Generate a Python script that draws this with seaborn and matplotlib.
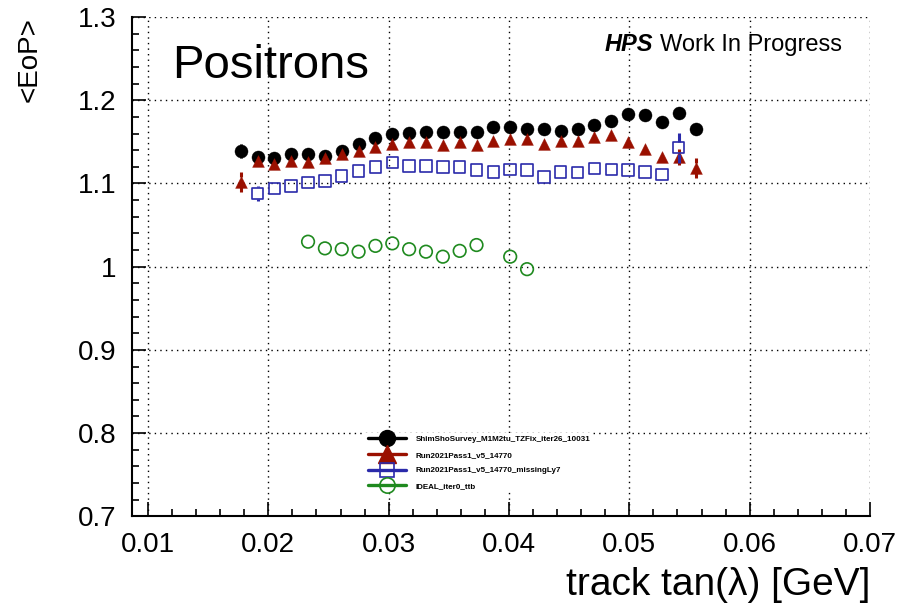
import matplotlib
matplotlib.use("Agg")
import matplotlib.pyplot as plt
import matplotlib.transforms as mtransforms
from matplotlib.collections import LineCollection
from matplotlib.lines import Line2D
from matplotlib.ticker import FixedLocator, FixedFormatter, MultipleLocator
import pandas as pd
import seaborn as sns

# ---------------- data ----------------
series_labels = ["ShimShoSurvey_M1M2tu_TZFix_iter26_10031",
                 "Run2021Pass1_v5_14770",
                 "Run2021Pass1_v5_14770_missingLy7",
                 "IDEAL_iter0_ttb"]

black_x = [0.0177, 0.0191, 0.0205, 0.0219, 0.0233, 0.0247, 0.0261, 0.0275, 0.0289, 0.0303,
           0.0317, 0.0331, 0.0345, 0.0359, 0.0373, 0.0387, 0.0401, 0.0415, 0.0429, 0.0443,
           0.0457, 0.0471, 0.0485, 0.0499, 0.0513, 0.0527, 0.0541, 0.0555]
black_y = [1.139, 1.132, 1.130, 1.135, 1.135, 1.133, 1.139, 1.148, 1.155, 1.160,
           1.161, 1.162, 1.162, 1.162, 1.162, 1.168, 1.168, 1.166, 1.166, 1.163,
           1.165, 1.170, 1.175, 1.184, 1.182, 1.174, 1.185, 1.166]
black_err = [0.009, 0.004, 0.004, 0.004, 0.004, 0.004, 0.004, 0.004, 0.004, 0.004,
             0.004, 0.004, 0.004, 0.004, 0.004, 0.004, 0.004, 0.004, 0.004, 0.004,
             0.004, 0.004, 0.004, 0.004, 0.004, 0.004, 0.005, 0.005]

red_x = [0.0177, 0.0191, 0.0205, 0.0219, 0.0233, 0.0247, 0.0261, 0.0275, 0.0289, 0.0303,
         0.0317, 0.0331, 0.0345, 0.0359, 0.0373, 0.0387, 0.0401, 0.0415, 0.0429, 0.0443,
         0.0457, 0.0471, 0.0485, 0.0499, 0.0513, 0.0527, 0.0541, 0.0555]
red_y = [1.102, 1.127, 1.123, 1.127, 1.126, 1.130, 1.135, 1.139, 1.144, 1.148,
         1.150, 1.150, 1.146, 1.150, 1.146, 1.151, 1.153, 1.153, 1.147, 1.151,
         1.151, 1.156, 1.158, 1.150, 1.141, 1.132, 1.132, 1.119]
red_err = [0.012, 0.004, 0.004, 0.004, 0.004, 0.004, 0.004, 0.004, 0.004, 0.004,
           0.004, 0.004, 0.004, 0.004, 0.004, 0.004, 0.004, 0.004, 0.004, 0.004,
           0.004, 0.004, 0.004, 0.004, 0.004, 0.005, 0.010, 0.012]

blue_x = [0.0191, 0.0205, 0.0219, 0.0233, 0.0247, 0.0261, 0.0275, 0.0289, 0.0303,
          0.0317, 0.0331, 0.0345, 0.0359, 0.0373, 0.0387, 0.0401, 0.0415, 0.0429, 0.0443,
          0.0457, 0.0471, 0.0485, 0.0499, 0.0513, 0.0527, 0.0541]
blue_y = [1.088, 1.094, 1.097, 1.101, 1.103, 1.109, 1.115, 1.120, 1.125,
          1.121, 1.121, 1.120, 1.120, 1.116, 1.114, 1.117, 1.116, 1.108, 1.114,
          1.113, 1.118, 1.117, 1.116, 1.114, 1.111, 1.143]
blue_err = [0.009, 0.004, 0.004, 0.004, 0.004, 0.004, 0.004, 0.004, 0.004,
            0.004, 0.004, 0.004, 0.004, 0.004, 0.004, 0.004, 0.004, 0.004, 0.004,
            0.004, 0.004, 0.004, 0.004, 0.004, 0.005, 0.018]

green_x = [0.0233, 0.0247, 0.0261, 0.0275, 0.0289, 0.0303, 0.0317, 0.0331, 0.0345,
           0.0359, 0.0373, 0.0401, 0.0415]
green_y = [1.030, 1.022, 1.021, 1.018, 1.025, 1.028, 1.021, 1.018, 1.012,
           1.019, 1.026, 1.012, 0.997]
green_err = [0.003, 0.003, 0.003, 0.003, 0.003, 0.003, 0.003, 0.003, 0.003,
             0.003, 0.003, 0.003, 0.003]

xticks = [0.01, 0.02, 0.03, 0.04, 0.05, 0.06, 0.07]
xtick_labels = ["0.01", "0.02", "0.03", "0.04", "0.05", "0.06", "0.07"]
yticks = [0.7, 0.8, 0.9, 1.0, 1.1, 1.2, 1.3]
ytick_labels = ["0.7", "0.8", "0.9", "1", "1.1", "1.2", "1.3"]

# ---------------- style ----------------
sns.set_style("white")
plt.rcParams["font.family"] = ["Liberation Sans", "DejaVu Sans"]
plt.rcParams["text.color"] = "black"
plt.rcParams["axes.labelcolor"] = "black"
plt.rcParams["xtick.color"] = "black"
plt.rcParams["ytick.color"] = "black"

C_BLACK = "#000000"
C_RED = "#9a1000"
C_BLUE = "#2a2aaa"
C_GREEN = "#1f8a1f"

fig = plt.figure(figsize=(9.11, 6.08), dpi=100)
ax = fig.add_axes([0.1449, 0.1508, 0.8101, 0.8212])
ax.set_xlim(0.00867, 0.07)
ax.set_ylim(0.7, 1.3)

px_per_y = ax.bbox.height / (1.3 - 0.7)


def gapped_bars(x, y, err, half_px, color, lw, z):
    gap = half_px / px_per_y
    segs = []
    for xi, yi, ei in zip(x, y, err):
        if ei > gap:
            segs.append([(xi, yi + gap), (xi, yi + ei)])
            segs.append([(xi, yi - ei), (xi, yi - gap)])
    if segs:
        ax.add_collection(LineCollection(segs, colors=color, linewidths=lw, zorder=z))


series = [
    dict(x=black_x, y=black_y, e=black_err, color=C_BLACK, marker="o", s=88,
         filled=True, half=6.0),
    dict(x=red_x, y=red_y, e=red_err, color=C_RED, marker="^", s=72,
         filled=True, half=5.0),
    dict(x=blue_x, y=blue_y, e=blue_err, color=C_BLUE, marker="s", s=68,
         filled=False, half=6.0),
    dict(x=green_x, y=green_y, e=green_err, color=C_GREEN, marker="o", s=82,
         filled=False, half=6.5),
]

for k, sr in enumerate(series):
    z = 4 + 2 * k
    gapped_bars(sr["x"], sr["y"], sr["e"], sr["half"], sr["color"], 2.2, z)
    df = pd.DataFrame({"x": sr["x"], "y": sr["y"]})
    if sr["filled"]:
        sns.scatterplot(data=df, x="x", y="y", ax=ax, marker=sr["marker"], s=sr["s"],
                        color=sr["color"], edgecolor=sr["color"], linewidth=0.3,
                        zorder=z + 1, legend=False)
    else:
        sns.scatterplot(data=df, x="x", y="y", ax=ax, marker=sr["marker"], s=sr["s"],
                        color=sr["color"], facecolors="none", edgecolor=sr["color"],
                        linewidth=1.2, zorder=z + 1, legend=False)

# ---------------- axes ----------------
ax.set_xlabel("")
ax.set_ylabel("")
ax.xaxis.set_major_locator(FixedLocator(xticks))
ax.xaxis.set_major_formatter(FixedFormatter(xtick_labels))
ax.yaxis.set_major_locator(FixedLocator(yticks))
ax.yaxis.set_major_formatter(FixedFormatter(ytick_labels))
ax.xaxis.set_minor_locator(MultipleLocator(0.002))
ax.yaxis.set_minor_locator(MultipleLocator(0.02))

ax.grid(True, which="major", color="black", linestyle=(0, (1, 3)), linewidth=1.0)
ax.set_axisbelow(True)

for side in ["top", "right"]:
    ax.spines[side].set_visible(False)
for side in ["left", "bottom"]:
    ax.spines[side].set_visible(True)
    ax.spines[side].set_color("black")
    ax.spines[side].set_linewidth(1.5)

ax.tick_params(which="both", direction="in", bottom=True, left=True, top=False, right=False,
               color="black", labelcolor="black", width=1.2)
ax.tick_params(which="major", length=10, labelsize=20, pad=11)
ax.tick_params(which="minor", length=5)

ax.set_xlabel("track tan(λ) [GeV]", loc="right", fontsize=28, labelpad=7, color="black")
ax.set_ylabel("<EoP>", loc="top", fontsize=20, color="black")
ax.yaxis.label.set_va("baseline")
ax.yaxis.set_label_coords(-0.1287, 1.0)

# ---------------- texts ----------------
ax.text(0.054, 0.878, "Positrons", transform=ax.transAxes, fontsize=34,
        va="baseline", ha="left", color="black")

y_hps = 1 - 50.7 / 608
t2 = fig.text(841.7 / 911, y_hps, "Work In Progress", ha="right", va="baseline",
              fontsize=17, color="black")
fig.canvas.draw()
bb = t2.get_window_extent()
blend = mtransforms.blended_transform_factory(mtransforms.IdentityTransform(), fig.transFigure)
fig.text(bb.x0 - 6.5, y_hps, "HPS", ha="right", va="baseline", fontsize=17,
         fontweight="bold", fontstyle="italic", transform=blend, color="black")

# ---------------- legend ----------------
handles = [
    Line2D([], [], color=C_BLACK, lw=2.4, marker="o", markersize=11.5,
           markerfacecolor=C_BLACK, markeredgecolor=C_BLACK),
    Line2D([], [], color=C_RED, lw=2.4, marker="^", markersize=12.5,
           markerfacecolor=C_RED, markeredgecolor=C_RED),
    Line2D([], [], color=C_BLUE, lw=2.4, marker="s", markersize=9.5,
           markerfacecolor="none", markeredgecolor=C_BLUE, markeredgewidth=1.2),
    Line2D([], [], color=C_GREEN, lw=2.4, marker="o", markersize=11,
           markerfacecolor="none", markeredgecolor=C_GREEN, markeredgewidth=1.2),
]
leg = ax.legend(handles, series_labels, loc="upper left", bbox_to_anchor=(0.316, 0.167),
                frameon=True, facecolor="white", edgecolor="none", framealpha=1,
                fancybox=False, prop=dict(size=5.8, weight="bold"),
                handlelength=4.8, handletextpad=1.2, labelspacing=1.0,
                borderpad=0.3, borderaxespad=0)
leg.set_zorder(20)
for txt in leg.get_texts():
    txt.set_color("black")

fig.savefig("out.png", dpi=100)
